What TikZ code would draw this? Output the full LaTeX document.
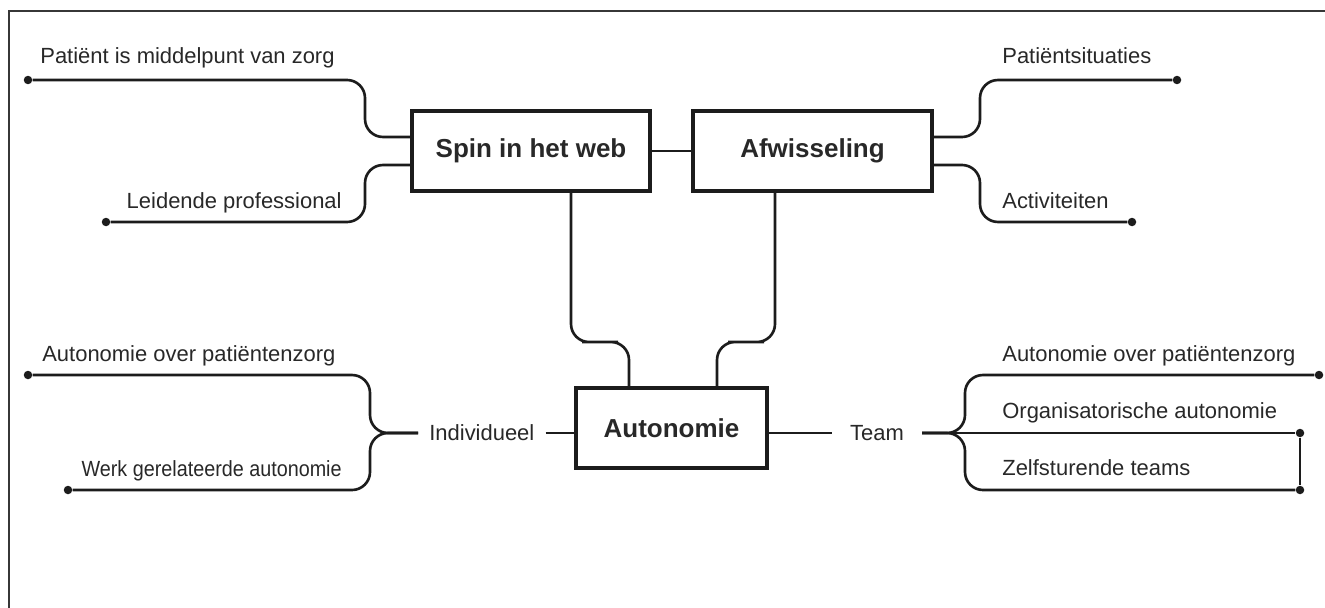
\documentclass[tikz,border=0pt]{standalone}
\usepackage{fontspec}
\setmainfont{Liberation Sans}
\usepackage{graphicx}
\usetikzlibrary{calc,positioning}
\definecolor{mmInk}{RGB}{28,28,28}
\definecolor{mmText}{RGB}{40,40,40}
\definecolor{mmFrame}{RGB}{55,55,55}

\begin{document}
\begin{tikzpicture}[
  x=0.02cm, y=-0.02cm,
  hub/.style={draw=mmInk, line width=2pt, minimum height=1.6cm, inner sep=0pt,
              font=\fontsize{14.8}{17}\selectfont\bfseries, text=mmText},
  leaf/.style={font=\fontsize{12.5}{15}\selectfont, text=mmText, inner sep=0pt},
  link/.style={draw=mmInk, line width=1.5pt, rounded corners=0.36cm},
  tip/.style={circle, fill=mmInk, inner sep=0pt, minimum size=0.17cm},
  frame/.style={draw=mmFrame, line width=0.9pt}
]
\useasboundingbox (0,0) rectangle (1325,608);
\draw[frame] (9,608) -- (9,11) -- (1325,11);

% the three hubs
\node[hub, minimum width=4.76cm] (spin) at (531,151) {Spin in het web};
\node[hub, minimum width=4.78cm] (afw) at (812.5,151) {Afwisseling};
\node[hub, minimum width=3.82cm] (auto) at (671.5,428) {Autonomie};

\draw[link] (spin) -- (afw);
\draw[link] ($(spin.south)+(40,0)$) |- (600,342) -| ($(auto.north)+(-42.5,0)$);
\draw[link] ($(afw.south)+(-37.5,0)$) |- (746,342) -| ($(auto.north)+(45.5,0)$);

% end points of the branches
\node[tip] (tl1) at (28,80) {};
\node[tip] (tl2) at (106,222) {};
\node[tip] (tr1) at (1177,80) {};
\node[tip] (tr2) at (1132,222) {};
\node[tip] (bl1) at (28,375) {};
\node[tip] (bl2) at (68,490) {};
\node[tip] (br1) at (1319,375) {};
\node[tip] (br2) at (1300,433) {};
\node[tip] (br3) at (1300,490) {};

% upper branches
\draw[link] ($(spin.west)+(0,-14)$) -| (365,80) -- (tl1);
\draw[link] ($(spin.west)+(0,14)$) -| (365,222) -- (tl2);
\draw[link] ($(afw.east)+(0,-14)$) -| (980,80) -- (tr1);
\draw[link] ($(afw.east)+(0,14)$) -| (980,222) -- (tr2);

% individueel / team
\node[leaf, anchor=west, inner xsep=0.22cm] (indiv) at (418,433) {Individueel};
\node[leaf, inner xsep=0.36cm] (team) at (877,433) {Team};

\draw[link] (indiv.east) -- (indiv.east -| auto.west);
\draw[link] (bl1) -| (370,433) -- (indiv.west);
\draw[link] (bl2) -| (370,433) -- (indiv.west);

\draw[link] (auto.east |- team) -- (team.west);
\draw[link] (team.east) -| (965,375) -- (br1);
\draw[link] (team.east) -| (965,490) -- (br3);
\draw[link] (team.east) -- (br2);
\draw[link] (br2) -- (br3);

% branch labels
\node[leaf, anchor=base west] (tl1txt) at (40,64) {Patiënt is middelpunt van zorg};
\node[leaf, anchor=base east] (tl2txt) at (342,208) {Leidende professional};
\node[leaf, anchor=base west] (tr1txt) at (1002,64) {Patiëntsituaties};
\node[leaf, anchor=base west] (tr2txt) at (1002,208) {Activiteiten};
\node[leaf, anchor=base west] (bl1txt) at (42,361) {Autonomie over patiëntenzorg};
\node[leaf, anchor=base east] (bl2txt) at (342,476) {\scalebox{0.9}[1]{Werk gerelateerde autonomie}};
\node[leaf, anchor=base west] (br1txt) at (1002,361) {Autonomie over patiëntenzorg};
\node[leaf, anchor=base west] (br2txt) at (1002,418) {Organisatorische autonomie};
\node[leaf, anchor=base west] (br3txt) at (1002,475) {Zelfsturende teams};

\end{tikzpicture}
\end{document}
